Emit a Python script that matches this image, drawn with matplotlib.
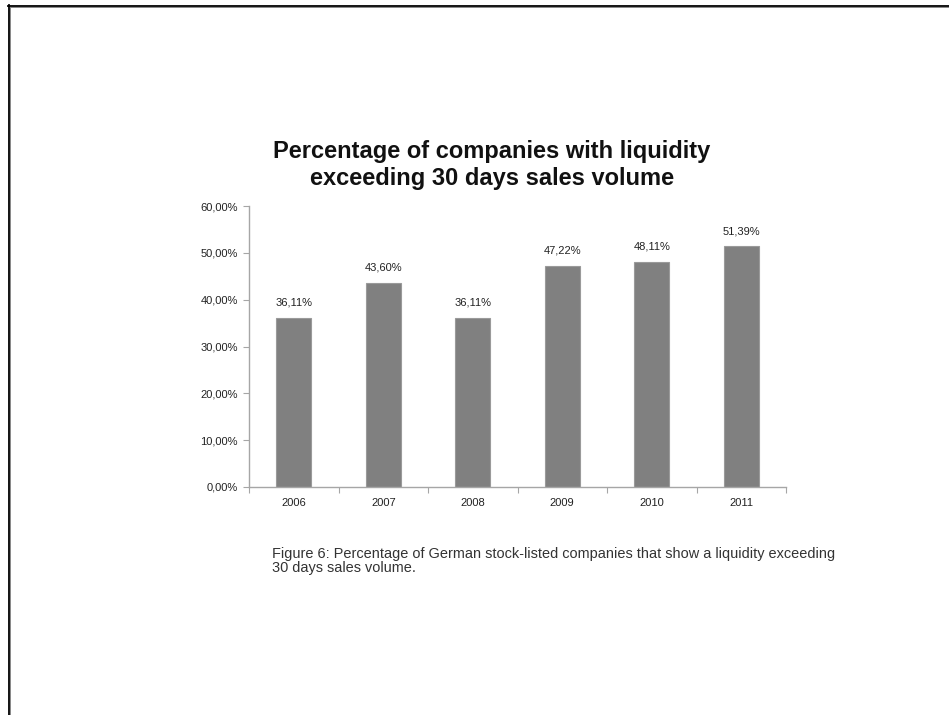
import matplotlib.pyplot as plt
from matplotlib.lines import Line2D

# Share of companies with liquidity above 30 days of sales
years = ["2006", "2007", "2008", "2009", "2010", "2011"]
values = [36.11, 43.60, 36.11, 47.22, 48.11, 51.39]
yticks = [0, 10, 20, 30, 40, 50, 60]

plt.rcParams["font.family"] = ["Liberation Sans", "DejaVu Sans"]

W, H = 949, 715
fig = plt.figure(figsize=(W / 100, H / 100), dpi=100)
fig.patch.set_facecolor("white")

ax = fig.add_axes([249 / W, 1 - 487 / H, 537 / W, 281 / H])
x = range(len(years))
bars = ax.bar(x, values, width=0.39, color="#808080", edgecolor="#9a9a9a", linewidth=0.8)

ax.set_xlim(-0.5, len(years) - 0.5)
ax.set_ylim(0, 60)
ax.set_yticks(yticks)
ax.set_yticklabels([f"{v:.2f}%".replace(".", ",") for v in yticks], fontsize=8, color="#222222")
ax.set_xticks(list(x))
ax.set_xticklabels(years, fontsize=8, color="#222222")
ax.tick_params(axis="x", length=0, pad=8)
ax.tick_params(axis="y", length=4, width=0.8, color="#a6a6a6", pad=4)

# category separators under the x axis
ax.set_xticks([i - 0.5 for i in range(len(years) + 1)], minor=True)
ax.tick_params(axis="x", which="minor", length=4, width=0.8, color="#a6a6a6", direction="out")

for side in ("top", "right"):
    ax.spines[side].set_visible(False)
for side in ("left", "bottom"):
    ax.spines[side].set_color("#a6a6a6")
    ax.spines[side].set_linewidth(1.0)

for b, v in zip(bars, values):
    ax.text(b.get_x() + b.get_width() / 2, v + 2.2, f"{v:.2f}%".replace(".", ","),
            ha="center", va="bottom", fontsize=8, color="#222222")

fig.text(492 / W, 1 - 165 / H, "Percentage of companies with liquidity\nexceeding 30 days sales volume",
         ha="center", va="center", fontsize=17, fontweight="bold", color="#111111",
         linespacing=1.22)

fig.text(272 / W, 1 - 561 / H,
         "Figure 6: Percentage of German stock-listed companies that show a liquidity exceeding\n"
         "30 days sales volume.",
         ha="left", va="center", fontsize=10.45, color="#333333", linespacing=1.05)

# page frame: top and left edges with a grey shadow line
fig.add_artist(Line2D([8 / W, 1], [1 - 5.7 / H, 1 - 5.7 / H], color="black", linewidth=1.3))
fig.add_artist(Line2D([8.75 / W, 8.75 / W], [0, 1 - 5 / H], color="black", linewidth=1.3))
fig.add_artist(Line2D([9.5 / W, 1], [1 - 7.2 / H, 1 - 7.2 / H], color="#8a8a8a", linewidth=0.72))
fig.add_artist(Line2D([10.2 / W, 10.2 / W], [0, 1 - 6.5 / H], color="#8a8a8a", linewidth=0.72))

fig.savefig("out.png", dpi=100)
